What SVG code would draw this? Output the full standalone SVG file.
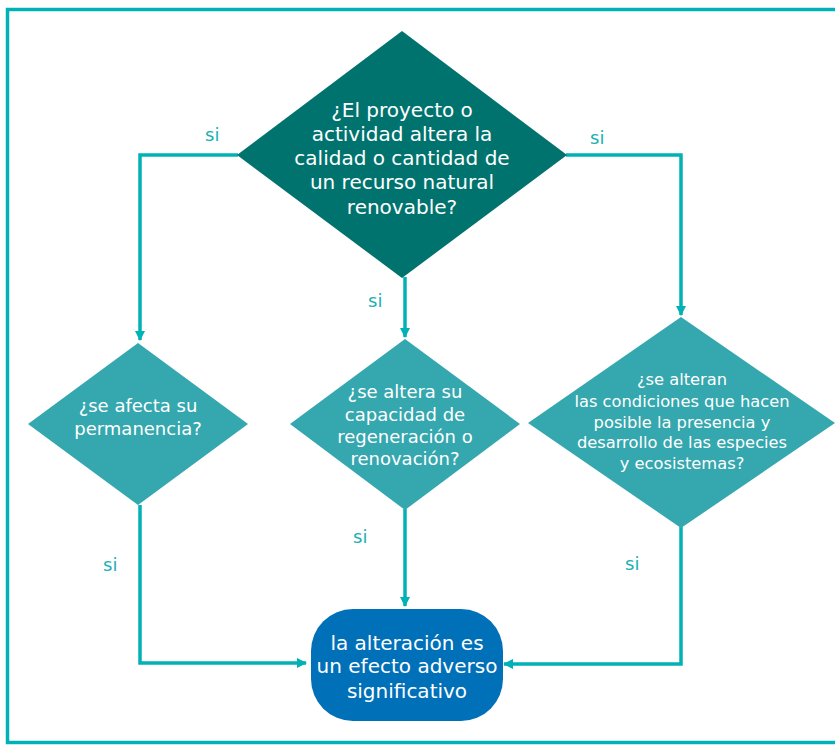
<svg xmlns="http://www.w3.org/2000/svg" width="835" height="745" viewBox="0 0 835 745">
<style>
.frame{fill:none;stroke:#00b2b5;stroke-width:3.5}
.line{fill:none;stroke:#00b2b5;stroke-width:3.5}
.dk{fill:#00736f}
.lt{fill:#35a7ae}
.term{fill:#0070b8}
.t{font-family:"DejaVu Sans","Verdana",sans-serif;fill:#ffffff;text-anchor:middle}
.si{font-family:"DejaVu Sans","Verdana",sans-serif;fill:#1ab0b5;font-size:18px}
</style>
<defs>
<marker id="ah" viewBox="0 0 10 10" refX="9" refY="5" markerWidth="3" markerHeight="3" orient="auto" markerUnits="strokeWidth">
<path d="M0,0 L10,5 L0,10 Z" fill="#00b2b5"/>
</marker>
</defs>
<rect class="frame" x="7.5" y="9.5" width="840" height="733"/>
<g id="connectors">
<polyline class="line" points="238,155 140,155 140,340" marker-end="url(#ah)"/>
<polyline class="line" points="566,155 681,155 681,315" marker-end="url(#ah)"/>
<polyline class="line" points="405,277 405,337" marker-end="url(#ah)"/>
<polyline class="line" points="140,505 140,663 306,663" marker-end="url(#ah)"/>
<polyline class="line" points="405,509 405,606" marker-end="url(#ah)"/>
<polyline class="line" points="681,527 681,664 504,664" marker-end="url(#ah)"/>
<text class="si" x="205" y="141">si</text>
<text class="si" x="590" y="144">si</text>
<text class="si" x="368" y="307">si</text>
<text class="si" x="103" y="571">si</text>
<text class="si" x="353" y="543">si</text>
<text class="si" x="625" y="570">si</text>
</g>
<g id="n1">
<polygon class="dk" points="402,31 567,155 402,278 237,155"/>
<text class="t" font-size="20"><tspan x="402" y="117">¿El proyecto o</tspan><tspan x="402" y="141">actividad altera la</tspan><tspan x="402" y="165">calidad o cantidad de</tspan><tspan x="402" y="189">un recurso natural</tspan><tspan x="402" y="214">renovable?</tspan></text>
</g>
<g id="n2">
<polygon class="lt" points="138,343 248,424 138,505 28,424"/>
<text class="t" font-size="18"><tspan x="138" y="412">¿se afecta su</tspan><tspan x="138" y="435">permanencia?</tspan></text>
</g>
<g id="n3">
<polygon class="lt" points="405,339 520,424 405,510 290,424"/>
<text class="t" font-size="18"><tspan x="405" y="398">¿se altera su</tspan><tspan x="405" y="421">capacidad de</tspan><tspan x="405" y="443">regeneración o</tspan><tspan x="405" y="465">renovación?</tspan></text>
</g>
<g id="n4">
<polygon class="lt" points="681,317 835,423 681,528 528,423"/>
<text class="t" font-size="16.3"><tspan x="682" y="385">¿se alteran</tspan><tspan x="682" y="407">las condiciones que hacen</tspan><tspan x="682" y="428">posible la presencia y</tspan><tspan x="682" y="448">desarrollo de las especies</tspan><tspan x="682" y="469">y ecosistemas?</tspan></text>
</g>
<g id="n5">
<rect class="term" x="311" y="609" width="192" height="112" rx="42" ry="42"/>
<text class="t" font-size="20"><tspan x="407" y="650">la alteración es</tspan><tspan x="407" y="673">un efecto adverso</tspan><tspan x="407" y="698">significativo</tspan></text>
</g>
</svg>
